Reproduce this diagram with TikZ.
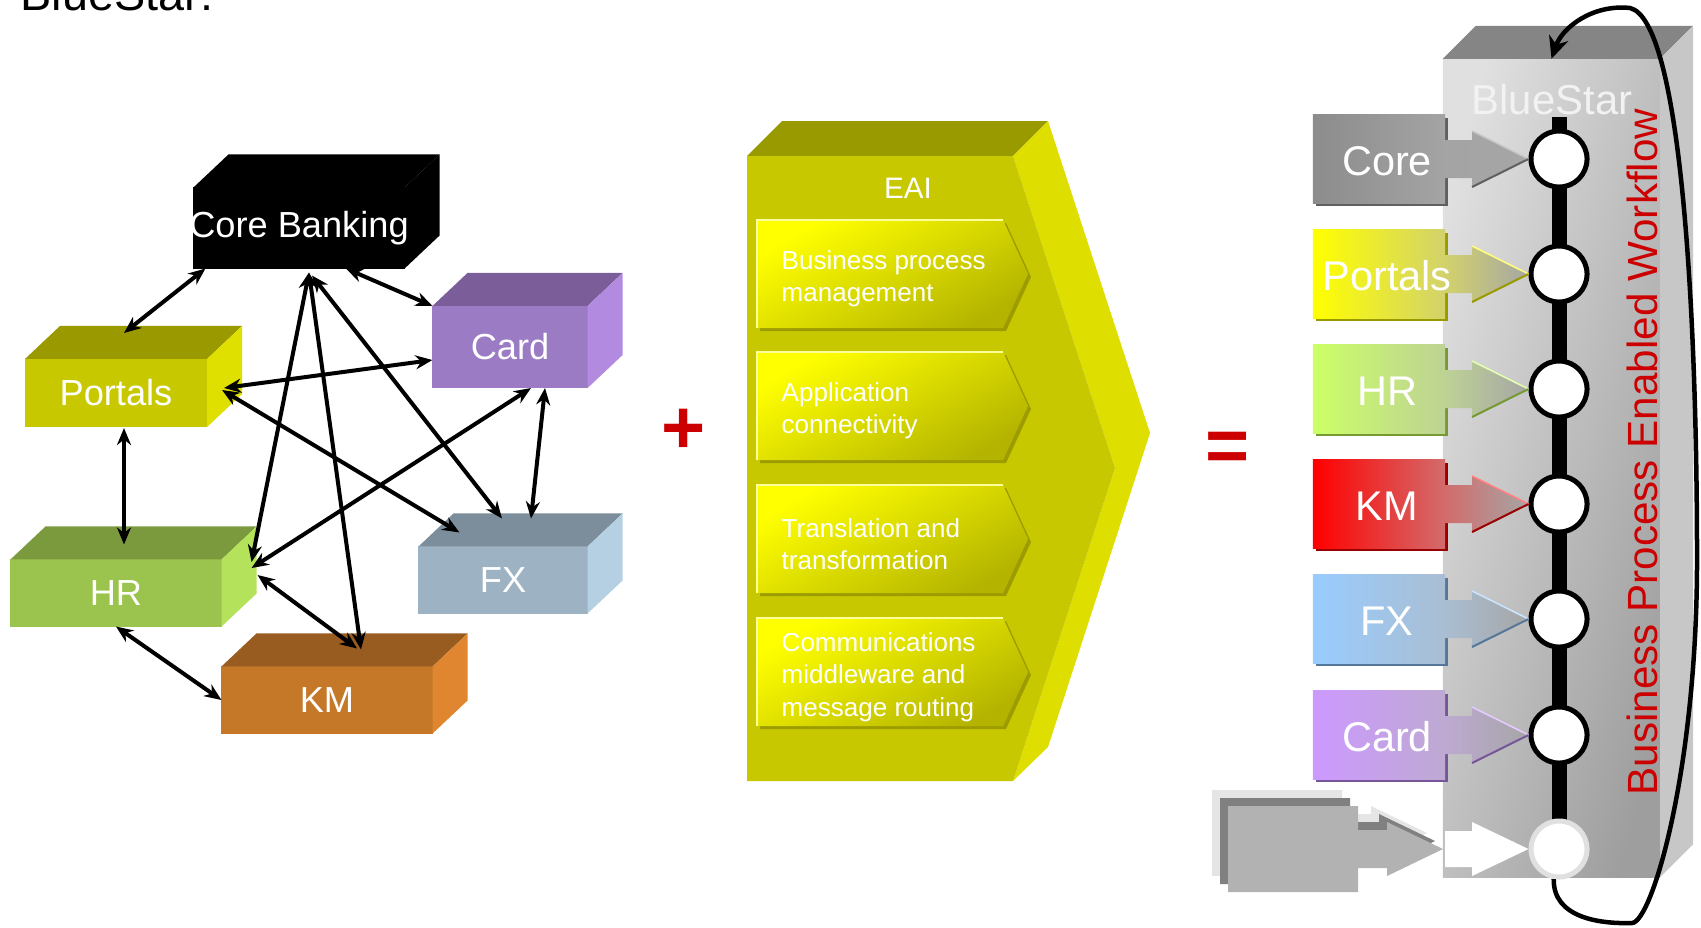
\documentclass[tikz,border=0pt]{standalone}
\usepackage{fontspec}
\setmainfont{Liberation Sans}
\usetikzlibrary{arrows.meta}

\definecolor{portalsfront}{HTML}{C8C800}
\definecolor{portalstop}{HTML}{9A9A00}
\definecolor{portalsside}{HTML}{E0E000}
\definecolor{cardfront}{HTML}{9B7BC4}
\definecolor{cardtop}{HTML}{7B5E99}
\definecolor{cardside}{HTML}{B28BE0}
\definecolor{hrfront}{HTML}{9BC44E}
\definecolor{hrtop}{HTML}{7A9A3D}
\definecolor{hrside}{HTML}{B4E25A}
\definecolor{fxfront}{HTML}{9DB3C3}
\definecolor{fxtop}{HTML}{7C8E9B}
\definecolor{fxside}{HTML}{B5D0E2}
\definecolor{kmfront}{HTML}{C47828}
\definecolor{kmtop}{HTML}{985B20}
\definecolor{kmside}{HTML}{E08530}
\definecolor{eaifront}{HTML}{C8C800}
\definecolor{eaitop}{HTML}{999900}
\definecolor{eaiside}{HTML}{DEDE00}
\definecolor{chevtop}{HTML}{FFFF00}
\definecolor{chevbot}{HTML}{B4B400}
\definecolor{chevshadow}{HTML}{9C9C00}
\definecolor{chevedge}{HTML}{FFFF99}
\definecolor{signred}{HTML}{CC0000}
\definecolor{tabgray}{HTML}{B4B4B4}
\definecolor{tabcore}{HTML}{8C8C8C}
\definecolor{tabportals}{HTML}{FFFF00}
\definecolor{tabhr}{HTML}{CCFF66}
\definecolor{tabkm}{HTML}{FF0000}
\definecolor{tabfx}{HTML}{99CCFF}
\definecolor{tabcard}{HTML}{CC99FF}
\definecolor{edgecore}{HTML}{606060}
\definecolor{edgeportals}{HTML}{999900}
\definecolor{edgehr}{HTML}{779933}
\definecolor{edgekm}{HTML}{990000}
\definecolor{edgefx}{HTML}{557799}
\definecolor{edgecard}{HTML}{775599}

\tikzset{
	blockface/.style={inner sep=0pt, outer sep=0pt},
	blocktext/.style={inner sep=0pt, text=white, font=\fontsize{10.3}{12}\selectfont},
	link/.style={<->, line width=0.04cm},
	sign/.style={text=signred, font=\fontsize{21.5}{24}\selectfont\bfseries, inner sep=0pt},
	chevtext/.style={anchor=west, align=left, inner sep=0pt, text=white, font=\fontsize{7.4}{9.2}\selectfont},
	tabbox/.style={minimum width=1.32cm, minimum height=0.88cm, inner sep=0pt, outer sep=0pt},
	tabtext/.style={inner sep=0pt, text=white, font=\fontsize{11.8}{14}\selectfont},
	station/.style={circle, draw=black, fill=white, line width=0.05cm, minimum size=0.56cm, inner sep=0pt},
	rail/.style={line width=0.15cm},
	wfloop/.style={-{Stealth[length=0.22cm, width=0.2cm]}, line width=0.045cm}
}

% 3d box: name, centre, width, height, front, top, side, label
\newcommand{\sysblock}[8]{%
	\node[blockface, fill=#5, minimum width=#3, minimum height=#4] (#1) at (#2) {};
	\fill[#6] (#1.north west) -- ([shift={(35,-33)}]#1.north west) -- ([shift={(35,-33)}]#1.north east) -- (#1.north east) -- cycle;
	\fill[#7] (#1.north east) -- ([shift={(35,-33)}]#1.north east) -- ([shift={(35,-33)}]#1.south east) -- (#1.south east) -- cycle;
	\node[blocktext] (#1-label) at (#1) {#8};
}

% tab with arrow into a station: tab, station, y, colour, edge colour, label
\newcommand{\feed}[6]{%
	\fill[#5] (1316,#3-41) rectangle (1448,#3+47);
	\node[tabbox, left color=#4, right color=#4!40!tabgray] (#1) at (1379,#3) {};
	\shade[left color=#4!40!tabgray, right color=black!35] ([shift={(0,-19)}]#1.east) -- ([shift={(27,-19)}]#1.east) -- ([shift={(27,-28)}]#1.east) -- (#2.west) -- ([shift={(27,28)}]#1.east) -- ([shift={(27,19)}]#1.east) -- ([shift={(0,19)}]#1.east) -- cycle;
	\draw[#4!50!white, line width=0.015cm] ([shift={(27,-28)}]#1.east) -- (#2.west);
	\draw[#5, line width=0.02cm] ([shift={(27,28)}]#1.east) -- (#2.west);
	\node[tabtext] (#1-label) at ([shift={(8,2)}]#1.center) {#6};
}

% chevron inside EAI: name, top y, text
\newcommand{\chev}[3]{%
	\fill[chevshadow] (760,#2+3) -- (1006,#2+3) -- (1031,#2+57) -- (1006,#2+111) -- (760,#2+111) -- cycle;
	\shade[top color=chevtop, bottom color=chevbot, shading angle=30] (757,#2) -- (1003,#2) -- (1028,#2+54) -- (1003,#2+108) -- (757,#2+108) -- cycle;
	\draw[chevedge, line width=0.02cm] (757,#2+108) -- (757,#2) -- (1003,#2);
	\node[chevtext] (#1) at (781,#2+59) {#3};
}

\newcommand{\ghosttab}[3]{%
	\fill[#3, shift={(#1,#2)}] (1228,806) -- (1358,806) -- (1358,830) -- (1387,830) -- (1387,822) -- (1443,849) -- (1387,876) -- (1387,868) -- (1358,868) -- (1358,892) -- (1228,892) -- cycle;
}

\begin{document}
\begin{tikzpicture}[x=0.01cm, y=-0.01cm, >={Stealth[length=0.17cm, width=0.14cm]}]
	\useasboundingbox (0,0) rectangle (1701,927);

	\node[anchor=base west, inner sep=0pt, font=\fontsize{13.3}{16}\selectfont] (heading) at (20,10) {BlueStar:};

	% systems before
	\sysblock{core}{299,228}{2.11cm}{0.81cm}{black}{black}{black}{Core Banking}
	\sysblock{portals}{116,393}{1.82cm}{0.68cm}{portalsfront}{portalstop}{portalsside}{Portals}
	\sysblock{card}{510,347}{1.55cm}{0.82cm}{cardfront}{cardtop}{cardside}{Card}
	\sysblock{hr}{116,593}{2.11cm}{0.67cm}{hrfront}{hrtop}{hrside}{HR}
	\sysblock{fx}{503,580}{1.69cm}{0.67cm}{fxfront}{fxtop}{fxside}{FX}
	\sysblock{km}{327,700}{2.11cm}{0.67cm}{kmfront}{kmtop}{kmside}{KM}

	\draw[link] ([shift={(12,0)}]core.south west) -- ([shift={(8,-26)}]portals.north);
	\draw[link] ([shift={(47,0)}]core.south) -- (card.north west);
	\draw[link] ([shift={(0,13)}]card.west) -- ([shift={(17,-5)}]portals.east);
	\draw[link] ([shift={(15,-3)}]portals.east) -- ([shift={(41,-14)}]fx.north west);
	\draw[link] ([shift={(21,0)}]card.south) -- ([shift={(30,-25)}]hr.east);
	\draw[link] ([shift={(35,0)}]card.south) -- ([shift={(28,-28)}]fx.north);
	\draw[link] ([shift={(10,4)}]core.south) -- ([shift={(30,-31)}]hr.east);
	\draw[link] ([shift={(10,4)}]core.south) -- ([shift={(34,-17)}]km.north);
	\draw[link] ([shift={(13,7)}]core.south) -- ([shift={(-1,-28)}]fx.north);
	\draw[link] ([shift={(36,-18)}]hr.east) -- ([shift={(30,-18)}]km.north);
	\draw[link] (hr.south) -- (km.west);
	\draw[link] ([shift={(8,1)}]portals.south) -- ([shift={(8,-15)}]hr.north);

	\node[sign] (plus) at (684,431) {+};

	% EAI
	\fill[eaitop] (747,156) -- (782,121) -- (1048,121) -- (1013,156) -- cycle;
	\fill[eaiside] (1013,156) -- (1048,121) -- (1150,433) -- (1048,747) -- (1013,781) -- (1115,468) -- cycle;
	\fill[eaifront] (747,156) -- (1013,156) -- (1115,468) -- (1013,781) -- (747,781) -- cycle;
	\node[text=white, inner sep=0pt, font=\fontsize{8.4}{10}\selectfont] (eai) at (908,188) {EAI};
	\chev{bpm}{220}{Business process\\management}
	\chev{appc}{352}{Application\\connectivity}
	\chev{trans}{485}{Translation and\\transformation}
	\chev{comm}{618}{Communications\\middleware and\\message routing}

	\node[sign] (equals) at (1228,452) {=};

	% BlueStar
	\node[left color=black!12, right color=black!38, shading angle=75, minimum width=2.17cm, minimum height=8.18cm, inner sep=0pt, outer sep=0pt] (bluestar) at (1551.5,468) {};
	\fill[black!48] (bluestar.north west) -- ([shift={(33,-33)}]bluestar.north west) -- ([shift={(33,-33)}]bluestar.north east) -- (bluestar.north east) -- cycle;
	\fill[black!22] (bluestar.north east) -- ([shift={(33,-33)}]bluestar.north east) -- ([shift={(33,-33)}]bluestar.south east) -- (bluestar.south east) -- cycle;
	\node[text=white!95!black, inner sep=0pt, font=\fontsize{11.9}{14}\selectfont] (bstitle) at (1552,100) {BlueStar};

	\coordinate (railtop) at (1559,117);
	\coordinate (railbot) at (1559,849);
	\draw[rail] (railtop) -- (railbot);
	\node[station] (c1) at (1559,159) {};
	\node[station] (c2) at (1559,274) {};
	\node[station] (c3) at (1559,389) {};
	\node[station] (c4) at (1559,504) {};
	\node[station] (c5) at (1559,619) {};
	\node[station] (c6) at (1559,735) {};
	\node[station, draw=black!12] (c7) at (1559,849) {};

	\feed{tcore}{c1}{159}{tabcore}{edgecore}{Core}
	\feed{tportals}{c2}{274}{tabportals}{edgeportals}{Portals}
	\feed{thr}{c3}{389}{tabhr}{edgehr}{HR}
	\feed{tkm}{c4}{504}{tabkm}{edgekm}{KM}
	\feed{tfx}{c5}{619}{tabfx}{edgefx}{FX}
	\feed{tcard}{c6}{735}{tabcard}{edgecard}{Card}

	\ghosttab{-16}{-16}{black!10}
	\ghosttab{-8}{-8}{black!50}
	\ghosttab{0}{0}{black!30}
	\fill[white] (1445,831) -- (1472,831) -- (1472,822) -- (c7.west) -- (1472,876) -- (1472,867) -- (1445,867) -- cycle;

	\node[rotate=90, text=signred, inner sep=0pt, font=\fontsize{12}{14}\selectfont] (bpew) at (1642,452) {Business Process Enabled Workflow};

	\draw[wfloop] (c7.-100) .. controls (1553,918) and (1600,924) .. (1632,923)
		.. controls (1652,922) and (1697,770) .. (1697,560)
		.. controls (1697,300) and (1680,20) .. (1630,8)
		.. controls (1592,4) and (1562,28) .. (bluestar.north);
\end{tikzpicture}
\end{document}
